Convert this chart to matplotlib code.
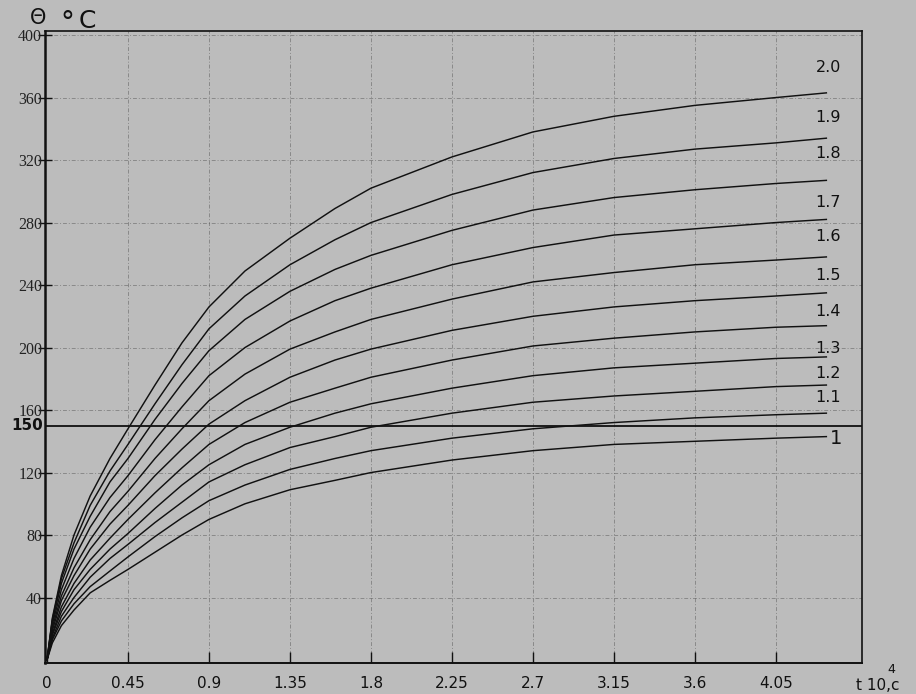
import matplotlib
matplotlib.use("Agg")
import matplotlib.pyplot as plt

# ---- data ----
t = [0, 0.03, 0.08, 0.15, 0.24, 0.35, 0.45, 0.6, 0.75, 0.9, 1.1, 1.35, 1.6, 1.8,
     2.25, 2.7, 3.15, 3.6, 4.05, 4.33]
curve_names = ["1", "1.1", "1.2", "1.3", "1.4", "1.5", "1.6", "1.7", "1.8", "1.9", "2.0"]
theta_10 = [0, 11, 22, 32, 43, 51, 58, 69, 80, 90, 100, 109, 115, 120, 128, 134, 138, 140, 142, 143]
theta_11 = [0, 13, 25, 36, 47, 57, 66, 79, 91, 102, 112, 122, 129, 134, 142, 148, 152, 155, 157, 158]
theta_12 = [0, 14, 28, 40, 53, 65, 74, 88, 101, 114, 125, 136, 143, 149, 158, 165, 169, 172, 175, 176]
theta_13 = [0, 16, 31, 45, 58, 71, 81, 97, 112, 125, 138, 149, 158, 164, 174, 182, 187, 190, 193, 194]
theta_14 = [0, 17, 34, 49, 64, 78, 90, 107, 123, 138, 152, 165, 174, 181, 192, 201, 206, 210, 213, 214]
theta_15 = [0, 19, 38, 54, 71, 87, 99, 118, 135, 151, 166, 181, 192, 199, 211, 220, 226, 230, 233, 235]
theta_16 = [0, 21, 41, 59, 77, 95, 108, 129, 148, 166, 183, 199, 210, 218, 231, 242, 248, 253, 256, 258]
theta_17 = [0, 23, 45, 65, 85, 104, 118, 141, 162, 182, 200, 217, 230, 238, 253, 264, 272, 276, 280, 282]
theta_18 = [0, 25, 49, 71, 92, 114, 129, 154, 177, 198, 218, 236, 250, 259, 275, 288, 296, 301, 305, 307]
theta_19 = [0, 26, 52, 75, 99, 121, 138, 164, 189, 212, 233, 253, 269, 280, 298, 312, 321, 327, 331, 334]
theta_20 = [0, 27, 54, 80, 105, 129, 148, 176, 203, 226, 249, 270, 289, 302, 322, 338, 348, 355, 360, 363]
series = [theta_10, theta_11, theta_12, theta_13, theta_14, theta_15,
          theta_16, theta_17, theta_18, theta_19, theta_20]

x_ticks = [0, 0.45, 0.9, 1.35, 1.8, 2.25, 2.7, 3.15, 3.6, 4.05]
x_tick_labels = ["0", "0.45", "0.9", "1.35", "1.8", "2.25", "2.7", "3.15", "3.6", "4.05"]
y_ticks = [40, 80, 120, 160, 200, 240, 280, 320, 360, 400]
y_tick_labels = ["40", "80", "120", "160", "200", "240", "280", "320", "360", "400"]
ref_level = 150

# label placement (layout)
label_y = [142, 168, 183.5, 199.5, 223, 246, 271, 293, 324.5, 347.5, 379]

BG = "#bcbcbc"
fig = plt.figure(figsize=(9.16, 6.94), dpi=100, facecolor=BG)
ax = fig.add_axes([45/916, 1-663/694, (862-45)/916, (663-31)/694])
ax.set_facecolor(BG)

ax.set_xlim(-0.011, 4.528)
ax.set_ylim(-1.9, 402.6)

# grid
for xv in x_ticks[1:]:
    ax.axvline(xv, color="#4a4a4a", lw=0.7, ls=(0, (4, 2, 1, 2)), alpha=0.45, zorder=1)
for yv in y_ticks:
    ax.axhline(yv, color="#4a4a4a", lw=0.7, ls=(0, (4, 2, 1, 2)), alpha=0.45, zorder=1)

# reference line
ax.axhline(ref_level, color="#101010", lw=1.3, zorder=2)

for name, vals, ly in zip(curve_names, series, label_y):
    ax.plot(t, vals, color="#111111", lw=1.05, zorder=3, solid_joinstyle="round")
    if name == "1":
        ax.text(4.385, ly, name, ha="center", va="center", fontsize=14,
                color="#111111", family="DejaVu Sans")
    else:
        ax.text(4.34, ly, name, ha="center", va="center", fontsize=11.5,
                color="#111111", family="DejaVu Sans")

ax.set_xticks(x_ticks)
ax.set_xticklabels(x_tick_labels, fontsize=11, family="DejaVu Sans", color="#111111")
ax.set_yticks(y_ticks)
ax.set_yticklabels(y_tick_labels, fontsize=11.5, family="Liberation Serif", color="#222222")
ax.tick_params(axis="x", direction="in", length=8, width=1.0, pad=9, color="#111111")
ax.tick_params(axis="y", direction="inout", length=10, width=1.0, pad=-3, color="#111111")

ax.text(-0.022, ref_level, "150", ha="right", va="center", fontsize=11,
        fontweight="bold", family="DejaVu Sans", color="#111111",
        transform=ax.transData, clip_on=False)

for s in ["top", "right"]:
    ax.spines[s].set_linewidth(1.2)
ax.spines["left"].set_linewidth(1.8)
ax.spines["bottom"].set_linewidth(1.4)
for s in ax.spines.values():
    s.set_color("#111111")

# axis titles
fig.text(30/916, 1-24/694, "Θ", fontsize=15, va="baseline", ha="left", color="#111111")
fig.text(60/916, 1-31/694, "°", fontsize=20, va="baseline", ha="left", color="#111111")
fig.text(79/916, 1-28/694, "C", fontsize=18, va="baseline", ha="left", color="#111111")

fig.text(856/916, 1-690/694, "t 10,c", fontsize=11, va="baseline", ha="left", color="#111111")
fig.text(887/916, 1-673/694, "4", fontsize=9, va="baseline", ha="left", color="#111111")

fig.savefig("out.png", dpi=100, facecolor=BG)
